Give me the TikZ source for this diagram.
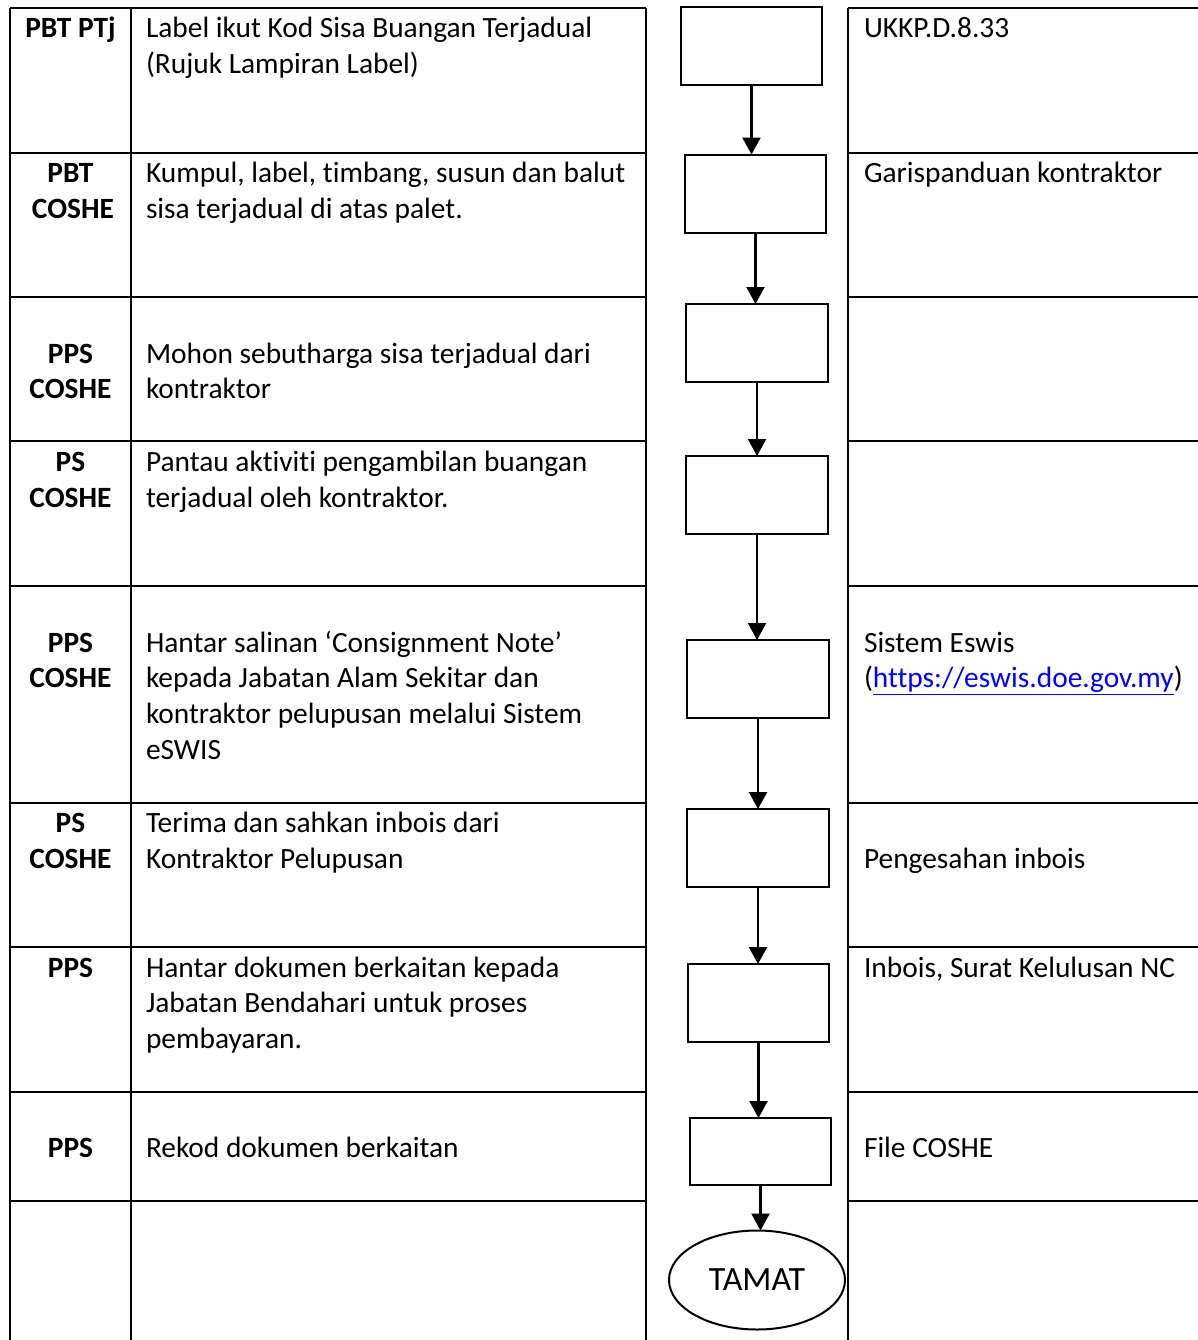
\documentclass[tikz,border=0pt]{standalone}
\usepackage{fontspec}
\setmainfont{Carlito}[Ligatures=NoCommon]
\usetikzlibrary{arrows.meta,shapes.geometric}
\begin{document}
\begin{tikzpicture}[x=0.5pt,y=-0.5pt,
  every node/.style={inner sep=0pt,outer sep=0pt},
  tbl/.style={line width=1.3pt},
  role/.style={anchor=base,font=\fontsize{14.7pt}{18pt}\selectfont\bfseries},
  txt/.style={anchor=base west,font=\fontsize{14.7pt}{18pt}\selectfont},
  stepbox/.style={draw,line width=1pt,rectangle,minimum width=70.5pt,minimum height=39pt},
  flow/.style={line width=1.1pt,-{Triangle[length=8.5pt,width=9pt]}},
  endnode/.style={draw,line width=1pt,ellipse,minimum width=88pt,minimum height=49.5pt,font=\fontsize{17pt}{20pt}\selectfont}]
\useasboundingbox (0,0) rectangle (1198,1340);
% table lines
\foreach \y in {8,153,297,441,586,803,947,1092,1201}{
  \draw[tbl] (10,\y) -- (646,\y);
  \draw[tbl] (848,\y) -- (1198,\y);
}
\foreach \x in {10,131,646,848}{
  \draw[tbl] (\x,8) -- (\x,1340);
}
% role column
\node[role] (p1a) at (70.5,37) {PBT PTj};
\node[role] (p2a) at (70.5,182) {PBT};
\node[role] (p2b) at (73,218) {COSHE};
\node[role] (p3a) at (70.5,363) {PPS};
\node[role] (p3b) at (70.5,398) {COSHE};
\node[role] (p4a) at (70.5,471) {PS};
\node[role] (p4b) at (70.5,507) {COSHE};
\node[role] (p5a) at (70.5,652) {PPS};
\node[role] (p5b) at (70.5,687) {COSHE};
\node[role] (p6a) at (70.5,832) {PS};
\node[role] (p6b) at (70.5,868) {COSHE};
\node[role] (p7a) at (70.5,977) {PPS};
\node[role] (p8a) at (70.5,1157) {PPS};
% activity column
\node[txt] (t1a) at (146,37) {Label ikut Kod Sisa Buangan Terjadual};
\node[txt] (t1b) at (146,73) {(Rujuk Lampiran Label)};
\node[txt] (t2a) at (146,182) {Kumpul, label, timbang, susun dan balut};
\node[txt] (t2b) at (146,218) {sisa terjadual di atas palet.};
\node[txt] (t3a) at (146,363) {Mohon sebutharga sisa terjadual dari};
\node[txt] (t3b) at (146,398) {kontraktor};
\node[txt] (t4a) at (146,471) {Pantau aktiviti pengambilan buangan};
\node[txt] (t4b) at (146,507) {terjadual oleh kontraktor.};
\node[txt] (t5a) at (146,652) {Hantar salinan ‘Consignment Note’};
\node[txt] (t5b) at (146,687) {kepada Jabatan Alam Sekitar dan};
\node[txt] (t5c) at (146,723) {kontraktor pelupusan melalui Sistem};
\node[txt] (t5d) at (146,759) {eSWIS};
\node[txt] (t6a) at (146,832) {Terima dan sahkan inbois dari};
\node[txt] (t6b) at (146,868) {Kontraktor Pelupusan};
\node[txt] (t7a) at (146,977) {Hantar dokumen berkaitan kepada};
\node[txt] (t7b) at (146,1012) {Jabatan Bendahari untuk proses};
\node[txt] (t7c) at (146,1048) {pembayaran.};
\node[txt] (t8a) at (146,1157) {Rekod dokumen berkaitan};
% reference column
\node[txt] (r1a) at (864,37) {UKKP.D.8.33};
\node[txt] (r2a) at (864,182) {Garispanduan kontraktor};
\node[txt] (r5a) at (864,652) {Sistem Eswis};
\node[txt] (r5b) at (864,687) {(\textcolor{blue}{\underline{https://eswis.doe.gov.my}})};
\node[txt] (r6a) at (864,868) {Pengesahan inbois};
\node[txt] (r7a) at (864,977) {Inbois, Surat Kelulusan NC};
\node[txt] (r8a) at (864,1157) {File COSHE};
% flow boxes
\node[stepbox] (b1) at (751.5,46) {};
\node[stepbox] (b2) at (755.5,193.5) {};
\node[stepbox,minimum width=71pt] (b3) at (757,343) {};
\node[stepbox,minimum width=71pt] (b4) at (757,495) {};
\node[stepbox,minimum width=71pt] (b5) at (758,679) {};
\node[stepbox,minimum width=71pt] (b6) at (758,848) {};
\node[stepbox] (b7) at (758.5,1003) {};
\node[stepbox,minimum height=33.5pt] (b8) at (760.5,1151.5) {};
\node[endnode] (e) at (757,1280) {TAMAT};
% connectors
\draw[flow] (b1.south) -- (b1.south |- b2.north);
\draw[flow] (b2.south) -- (b2.south |- b3.north);
\draw[flow] (b3.south) -- (b3.south |- b4.north);
\draw[flow] (b4.south) -- (b4.south |- b5.north);
\draw[flow] (b5.south) -- (b5.south |- b6.north);
\draw[flow] (b6.south) -- (b6.south |- b7.north);
\draw[flow] (b7.south) -- (b7.south |- b8.north);
\draw[flow] (b8.south) -- (b8.south |- e.north);
\end{tikzpicture}
\end{document}
